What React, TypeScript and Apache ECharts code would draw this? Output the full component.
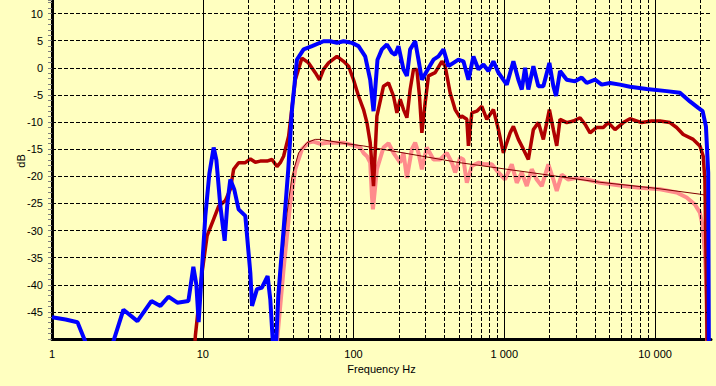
import React, { useEffect, useRef } from "react";
import * as echarts from "echarts";

// [frequency Hz, level dB]
const bluePoints: [number, number][] = [
  [1.0, -46.0], [1.23, -46.4], [1.476, -46.9], [1.75, -52], [2.45, -52], [2.978, -44.6], [3.686, -46.7],
  [4.564, -43.0], [5.236, -43.9], [5.916, -42.2], [6.786, -43.3], [8.03, -43.0], [8.66, -36.7], [9.07, -40],
  [9.39, -46.9], [10.4, -27.3], [11.06, -19.5], [11.81, -14.7], [12.31, -17], [13.08, -25.5], [13.97, -31.9],
  [14.56, -25], [15.23, -20.6], [16.2, -22.5], [17.29, -26.1], [19.15, -27.3], [20.68, -37.8], [21.22, -43.9],
  [22.89, -40.8], [24.72, -40.5], [26.92, -38.4], [28.05, -42.7], [29.37, -52], [30.51, -52], [31.7, -42],
  [34.37, -29.8], [36.92, -18.7], [39.07, -7.7], [42.16, 1.5], [46.64, 3.4], [53.02, 4.0], [63.28, 4.9],
  [70.06, 4.9], [77.62, 4.6], [85.85, 4.9], [97.6, 4.6], [107.9, 4.0], [119.5, 2.1], [129.0, -2.2],
  [135.7, -8.0], [144.2, 1.5], [154.2, 3.4], [166.5, 4.3], [179.7, 2.8], [188.9, 2.4], [198.7, 4.0],
  [214.5, -0.3], [225.9, -1.5], [237.5, 3.4], [256.4, 4.9], [269.6, 1.5], [284.0, -2.2], [306.5, -0.6],
  [339.0, 1.5], [365.8, 2.1], [394.9, 3.4], [426.2, 0.3], [460.0, 0.9], [496.5, 1.5], [535.8, 1.2],
  [578.3, -2.2], [624.2, 2.1], [673.6, -0.3], [727.0, 0.6], [784.7, -0.6], [846.9, 1.2], [914.1, -0.9],
  [1039, -3.1], [1149, 1.2], [1240, -2.2], [1306, -4.0], [1374, 0], [1444, -4.0], [1559, 0.3], [1683, -3.4],
  [1816, -3.4], [1991, 0.9], [2116, -3.4], [2204, -5.2], [2343, -0.6], [2596, -2.2], [2946, -2.5],
  [3263, -1.8], [3522, -2.8], [3997, -2.2], [4427, -3.1], [5025, -2.8], [5853, -3.1], [6818, -3.5],
  [8799, -3.9], [11940, -4.3], [14620, -4.6], [17030, -6.2], [19340, -7.4], [20680, -8.0], [21750, -10.8],
  [22520, -19.3], [22770, -55],
];

const redPoints: [number, number][] = [
  [8.8, -53], [8.93, -49.4], [9.89, -37.8], [10.68, -31.0], [11.81, -27.9], [12.75, -25.5], [14.12, -24.5],
  [15.23, -22.4], [16.03, -18.7], [17.29, -17.5], [19.15, -17.5], [20.68, -16.8], [22.32, -17.4],
  [24.08, -17.2], [26.68, -17.2], [28.79, -16.9], [31.08, -18.2], [32.68, -17.5], [34.37, -16.3],
  [37.1, -12.6], [41.1, -2.2], [45.51, 1.8], [50.33, 0.9], [55.74, -0.9], [59.53, -2.2], [63.28, -0.3],
  [68.3, 0.9], [77.62, 2.1], [85.85, 1.2], [92.67, 0.3], [100.0, -2.2], [107.9, -5.2], [116.5, -7.7],
  [122.7, -10.1], [129.0, -13.8], [135.7, -21.8], [142.9, -8.9], [158.1, -3.4], [170.6, -2.8],
  [184.1, -5.2], [194.0, -8.3], [204.0, -5.8], [214.5, -7.7], [225.9, -9.2], [237.5, -4.0], [249.8, -0.3],
  [263.1, -0.3], [273.8, -5.2], [284.0, -12.0], [298.7, -6.4], [314.1, -1.5], [347.8, -0.9], [385.3, 1.2],
  [405.2, 0.3], [437.3, -4.6], [472.0, -7.7], [509.4, -9.2], [522.8, -8.9], [564.3, -9.5], [578.3, -14.4],
  [609.1, -8.3], [657.4, -8.0], [709.5, -7.1], [765.6, -9.5], [846.9, -7.7], [914.1, -11.4], [986.3, -15.7],
  [1093, -12.0], [1149, -10.8], [1240, -13.2], [1338, -15.0], [1444, -16.9], [1559, -11.4], [1683, -10.1],
  [1816, -13.2], [1991, -7.7], [2116, -11.4], [2228, -14.4], [2343, -9.5], [2596, -10.1], [2871, -9.8],
  [3180, -9.2], [3431, -10.4], [3704, -12.0], [4102, -11.0], [4537, -11.0], [4896, -10.1], [5424, -11.4],
  [6156, -10.1], [6818, -9.4], [8153, -10.1], [9495, -9.8], [10780, -9.8], [12550, -10.1], [13900, -11.0],
  [15380, -12.3], [17920, -13.2], [19840, -14.4], [20860, -16.3], [21410, -20.6], [21910, -40], [22250, -55],
];

const pinkPoints: [number, number][] = [
  [30.5, -53], [34.37, -37.1], [38.07, -24.9], [41.1, -18.7], [45.51, -15.0], [50.33, -13.8], [54.31, -13.6],
  [60.16, -14.0], [66.63, -13.8], [85.85, -13.8], [102.6, -14.4], [110.8, -14.7], [116.5, -15.7],
  [122.7, -16.3], [129.0, -17.5], [132.4, -23.6], [134.5, -26.1], [142.9, -18.7], [158.1, -14.7],
  [170.6, -13.9], [184.1, -15.7], [204.0, -17.5], [214.5, -15.7], [225.9, -20.3], [243.8, -15.0],
  [256.4, -13.8], [269.6, -15.7], [284.0, -18.7], [306.5, -14.7], [339.0, -16.9], [375.5, -16.9],
  [415.8, -15.7], [448.9, -17.5], [472.0, -19.3], [509.4, -16.6], [535.8, -16.9], [564.3, -21.2],
  [609.1, -18.1], [673.6, -17.5], [746.2, -17.8], [826.1, -17.8], [914.1, -19.3], [1012, -20.6],
  [1121, -17.8], [1210, -21.2], [1306, -19.3], [1410, -21.8], [1521, -18.7], [1642, -20.6], [1772, -21.8],
  [1960, -17.8], [2116, -20.6], [2228, -22.7], [2404, -19.7], [2659, -20.6], [3022, -20.3], [3522, -20.6],
  [4313, -21.2], [5853, -21.7], [7942, -22.1], [10780, -22.4], [13900, -23.0], [16200, -23.9],
  [18380, -25.2], [19840, -26.7], [20680, -29.2], [21410, -34.1], [21980, -42.1], [22250, -55],
];

const targetPoints: [number, number][] = [
  [30.28, -52], [33.55, -35.9], [36.21, -26.8], [39.07, -20.0], [43.2, -15.7], [49.12, -13.8], [55.74, -13.2],
  [60.16, -13.2], [90, -14.0], [116, -14.4], [300, -16.4], [509, -17.5], [1480, -19.3], [4300, -21.1],
  [10000, -22.2], [19840, -23.3], [21800, -23.5], [22100, -55],
];

const decadeLines = [10, 100, 1000, 10000];
const minorLines = [
  20, 30, 40, 50, 60, 70, 80, 90,
  200, 300, 400, 500, 600, 700, 800, 900,
  2000, 3000, 4000, 5000, 6000, 7000, 8000, 9000,
  20000,
];
const dbLines = [-45, -40, -35, -30, -25, -20, -15, -10, -5, 0, 5, 10];

const FONT = "'Liberation Sans', Arial, sans-serif";

function fmtFreq(v: number): string {
  const lg = Math.log10(v);
  if (Math.abs(lg - Math.round(lg)) > 1e-6) return "";
  return String(Math.round(v)).replace(/\B(?=(\d{3})+(?!\d))/g, " ");
}

export default function App() {
  const ref = useRef<HTMLDivElement>(null);
  useEffect(() => {
    if (!ref.current) return;
    const chart = echarts.init(ref.current, null, { renderer: "svg" });
    const gridMarks = [
      ...decadeLines.map((v) => ({ xAxis: v, lineStyle: { color: "#000", width: 1, type: "solid" } })),
      ...minorLines.map((v) => ({ xAxis: v, lineStyle: { color: "#000", width: 1, type: [4, 2] } })),
      ...dbLines.map((v) => ({ yAxis: v, lineStyle: { color: "#000", width: 1, type: [4, 2] } })),
    ];
    chart.setOption({
      animation: false,
      backgroundColor: "#FFFFC0",
      grid: { left: 52, right: 5, top: 0, bottom: 47, containLabel: false },
      xAxis: {
        type: "log",
        logBase: 10,
        min: 1,
        max: 23500,
        name: "Frequency Hz",
        nameLocation: "middle",
        nameGap: 22,
        nameTextStyle: { color: "#000", fontSize: 11, fontFamily: FONT },
        axisLine: { show: true, onZero: false, lineStyle: { color: "#000", width: 3 } },
        axisTick: { show: false },
        splitLine: { show: false },
        axisLabel: {
          color: "#000",
          fontSize: 11,
          fontFamily: FONT,
          margin: 9,
          showMaxLabel: false,
          formatter: (v: number) => fmtFreq(v),
        },
      },
      yAxis: {
        type: "value",
        min: -50,
        max: 12.5,
        interval: 5,
        axisLine: { show: true, onZero: false, lineStyle: { color: "#000", width: 3 } },
        axisTick: { show: true, length: 4, lineStyle: { color: "#808080" } },
        minorTick: { show: true, splitNumber: 5, length: 4, lineStyle: { color: "#808080" } },
        splitLine: { show: false },
        axisLabel: {
          color: "#000",
          fontSize: 11,
          fontFamily: FONT,
          margin: 9,
          formatter: (v: number) => (v % 5 === 0 && v > -50 ? String(v) : ""),
        },
      },
      graphic: [
        {
          type: "text",
          x: 21,
          y: 161,
          rotation: Math.PI / 2,
          style: {
            text: "dB",
            fill: "#000",
            font: `11px ${FONT}`,
            align: "center",
            verticalAlign: "middle",
          },
        },
      ],
      series: [
        {
          type: "line",
          data: [[1, -60]],
          showSymbol: false,
          silent: true,
          lineStyle: { width: 0 },
          z: 1,
          markLine: {
            silent: true,
            symbol: ["none", "none"],
            label: { show: false },
            emphasis: { disabled: true },
            animation: false,
            data: gridMarks,
          },
        },
        {
          type: "line",
          data: pinkPoints,
          showSymbol: false,
          silent: true,
          clip: true,
          lineStyle: { color: "#FF8C8C", width: 4 },
          z: 2,
        },
        {
          type: "line",
          data: targetPoints,
          showSymbol: false,
          silent: true,
          clip: true,
          lineStyle: { color: "#800000", width: 1 },
          z: 3,
        },
        {
          type: "line",
          data: redPoints,
          showSymbol: false,
          silent: true,
          clip: true,
          lineStyle: { color: "#B00000", width: 3.5 },
          z: 4,
        },
        {
          type: "line",
          data: bluePoints,
          showSymbol: false,
          silent: true,
          clip: true,
          lineStyle: { color: "#0000FF", width: 4 },
          z: 5,
        },
      ],
    });
    return () => chart.dispose();
  }, []);
  return (
    <div
      ref={ref}
      style={{ position: "absolute", left: 0, top: 0, width: 716, height: 386 }}
    />
  );
}
